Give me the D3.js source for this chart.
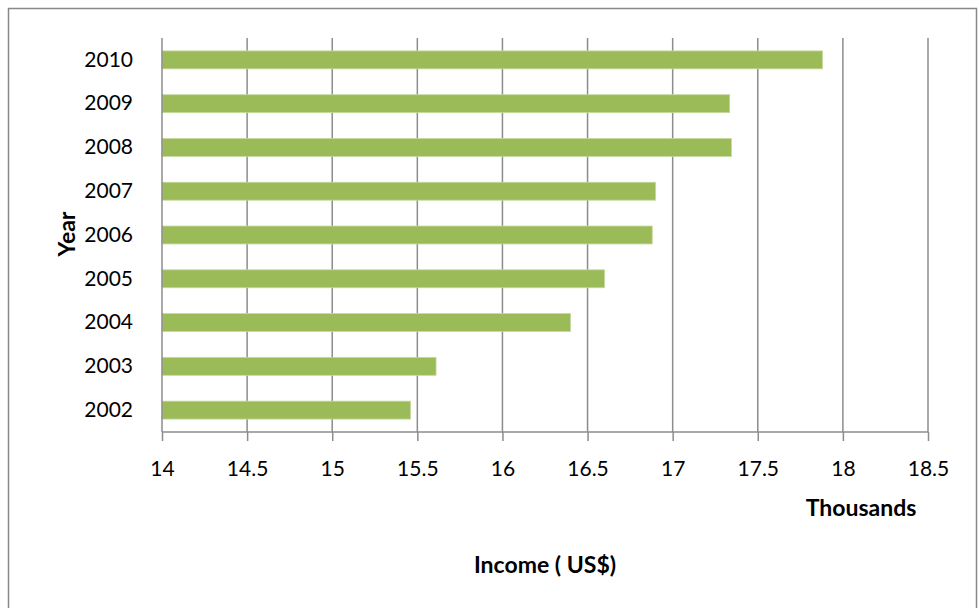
<!DOCTYPE html>
<html>
<head>
<meta charset="utf-8">
<script src="https://cdn.jsdelivr.net/npm/d3@7"></script>
<style>
  html, body { margin: 0; padding: 0; background: #fff; }
  svg { display: block; font-family: Lato, "Open Sans", sans-serif; }
</style>
</head>
<body>
<svg id="chart" width="979" height="608"></svg>
<script>
// Yearly income, in thousands of US$
const years = ["2002", "2003", "2004", "2005", "2006", "2007", "2008", "2009", "2010"];
const income = [15.46, 15.61, 16.40, 16.60, 16.88, 16.90, 17.345, 17.335, 17.88];
const xTicks = [14, 14.5, 15, 15.5, 16, 16.5, 17, 17.5, 18, 18.5];

const svg = d3.select("#chart");
const FONT = "Lato, 'Open Sans', sans-serif";

// Outer chart frame
svg.append("rect")
  .attr("x", 8.5).attr("y", 8.5)
  .attr("width", 968).attr("height", 610)
  .attr("fill", "#fff")
  .attr("stroke", "#878787").attr("stroke-width", 1.5);

const plot = { left: 162, right: 928, top: 38, bottom: 432 };

const x = d3.scaleLinear().domain([14, 18.5]).range([plot.left, plot.right]);
const y = d3.scaleBand()
  .domain(years.slice().reverse())
  .range([plot.top, plot.bottom])
  .paddingInner(0.59).paddingOuter(0.295);

// Vertical gridlines
svg.append("g").selectAll("line")
  .data(xTicks.slice(1))
  .join("line")
  .attr("x1", d => x(d)).attr("x2", d => x(d))
  .attr("y1", plot.top).attr("y2", plot.bottom)
  .attr("stroke", "#8c8c8c").attr("stroke-width", 1.5);

// Bars
svg.append("g").selectAll("rect")
  .data(years.map((yr, i) => ({ yr, v: income[i] })))
  .join("rect")
  .attr("x", x(14))
  .attr("y", d => y(d.yr))
  .attr("width", d => x(d.v) - x(14))
  .attr("height", y.bandwidth())
  .attr("fill", "#9bbb59")
  .attr("stroke", "#c5d9a0").attr("stroke-width", 0.8);

// X axis
const xAxis = svg.append("g")
  .attr("transform", `translate(0,${plot.bottom})`)
  .call(d3.axisBottom(x).tickValues(xTicks).tickSize(9).tickPadding(20)
    .tickFormat(d => String(d)));
xAxis.select(".domain").attr("stroke", "#8c8c8c").attr("stroke-width", 1.5)
  .attr("d", `M${plot.left},0H${plot.right}`);
xAxis.selectAll(".tick line").attr("stroke", "#8c8c8c").attr("stroke-width", 1.5);
xAxis.selectAll(".tick text").attr("font-size", 21).attr("fill", "#000")
  .attr("font-family", FONT);

// Y axis
const yAxis = svg.append("g")
  .attr("transform", `translate(${plot.left},0)`)
  .call(d3.axisLeft(y).tickSize(0).tickPadding(29));
yAxis.select(".domain").attr("stroke", "#8c8c8c").attr("stroke-width", 1.5)
  .attr("d", `M0,${plot.top}V${plot.bottom}`);
yAxis.selectAll(".tick text").attr("font-size", 21).attr("fill", "#000")
  .attr("font-family", FONT);

// Axis titles
svg.append("text")
  .attr("x", 861).attr("y", 516)
  .attr("text-anchor", "middle")
  .attr("font-size", 23).attr("font-weight", "bold")
  .text("Thousands");

svg.append("text")
  .attr("x", 545).attr("y", 573)
  .attr("text-anchor", "middle")
  .attr("font-size", 23).attr("font-weight", "bold")
  .text("Income ( US$)");

svg.append("text")
  .attr("transform", "translate(75,234) rotate(-90)")
  .attr("text-anchor", "middle")
  .attr("font-size", 23).attr("font-weight", "bold")
  .text("Year");
</script>
</body>
</html>
